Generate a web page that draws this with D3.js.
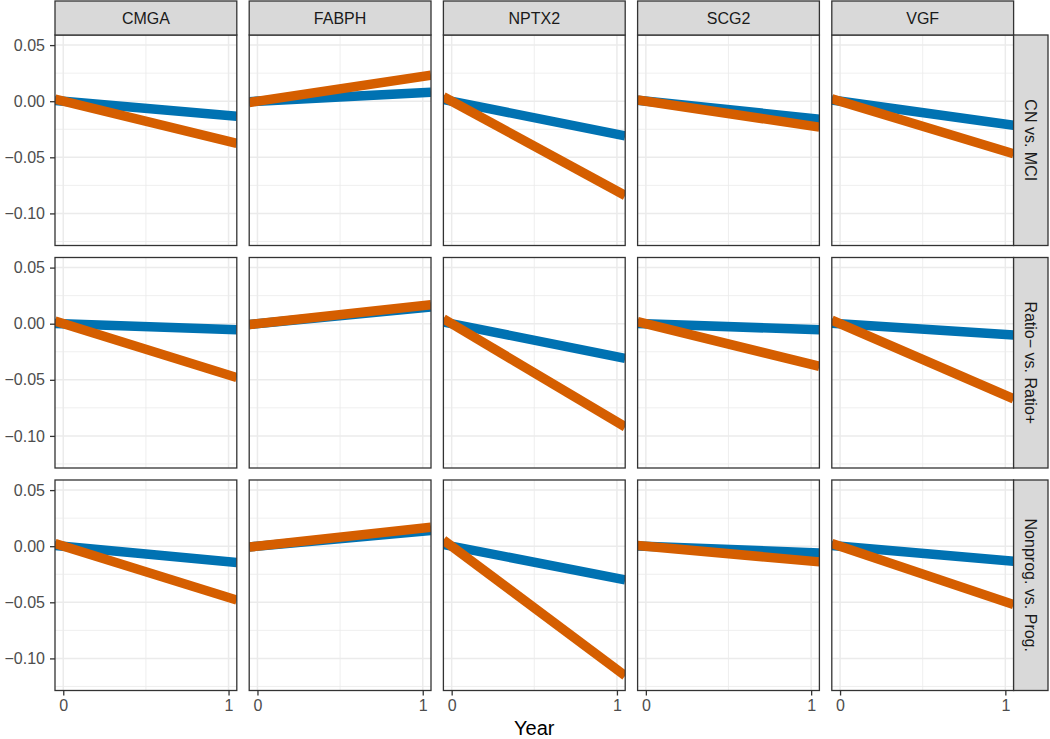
<!DOCTYPE html>
<html>
<head>
<meta charset="utf-8">
<script src="https://cdn.jsdelivr.net/npm/d3@7"></script>
<style>
  html, body { margin: 0; padding: 0; background: #fff; }
  svg { display: block; }
  text { font-family: "Liberation Sans", Arial, sans-serif; }
</style>
</head>
<body>
<svg id="chart" width="1050" height="739"></svg>
<script>
// ---------- data ----------
const genes = ["CMGA", "FABPH", "NPTX2", "SCG2", "VGF"];
const comparisons = ["CN vs. MCI", "Ratio\u2212 vs. Ratio+", "Nonprog. vs. Prog."];
const groupColors = ["#0072B2", "#D55E00"];
// value at Year 0 (all start at baseline)
const year0Blue = [
  [0, 0, 0, 0, 0],
  [0, 0, 0, 0, 0],
  [0, 0, 0, 0, 0]
];
const year0Orange = [
  [0, 0, 0, 0, 0],
  [0, 0, 0, 0, 0],
  [0, 0, 0, 0, 0]
];
// estimated value at Year 1, rows = comparisons, columns = genes
const year1Blue = [
  [-0.0128, 0.0076, -0.0295, -0.0152, -0.0205],
  [-0.0052, 0.0143, -0.0295, -0.0052, -0.0095],
  [-0.0139, 0.0133, -0.0286, -0.0057, -0.0128]
];
const year1Orange = [
  [-0.0358, 0.0220, -0.0800, -0.0220, -0.0446],
  [-0.0457, 0.0162, -0.0876, -0.0362, -0.0638],
  [-0.0457, 0.0162, -0.1100, -0.0133, -0.0495]
];
const xTicks = [0, 1];
const xMinor = [0.5];
const yTicks = [0.05, 0.00, -0.05, -0.10];
const yMinor = [0.025, -0.025, -0.075, -0.125];
const xDomain = [-0.05, 1.05];
const yDomain = [-0.1286, 0.059];
const xTitle = "Year";

// ---------- layout ----------
const svg = d3.select("#chart");
const leftX = 55, topY = 35;
const pw = 181.8, ph = 210.5, gapX = 12.4, gapY = 12;
const stripH = 34, stripW = 34.4;
const fmt = v => (v < 0 ? "\u2212" : "") + Math.abs(v).toFixed(2);

const x = d3.scaleLinear().domain(xDomain).range([0, pw]);
const y = d3.scaleLinear().domain(yDomain).range([ph, 0]);

const series = [
  { y0: year0Blue, y1: year1Blue, color: groupColors[0] },
  { y0: year0Orange, y1: year1Orange, color: groupColors[1] }
];

comparisons.forEach((comp, r) => {
  genes.forEach((gene, c) => {
    const px = leftX + c * (pw + gapX);
    const py = topY + r * (ph + gapY);
    const g = svg.append("g").attr("transform", `translate(${px},${py})`);
    const clipId = `clip-${r}-${c}`;
    g.append("clipPath").attr("id", clipId)
      .append("rect").attr("x", 0).attr("y", 0).attr("width", pw).attr("height", ph);

    // minor grid
    g.selectAll(".ymin").data(yMinor).join("line")
      .attr("x1", 0).attr("x2", pw)
      .attr("y1", d => y(d)).attr("y2", d => y(d))
      .attr("stroke", "#EBEBEB").attr("stroke-width", 0.8);
    g.selectAll(".xmin").data(xMinor).join("line")
      .attr("y1", 0).attr("y2", ph)
      .attr("x1", d => x(d)).attr("x2", d => x(d))
      .attr("stroke", "#EBEBEB").attr("stroke-width", 0.8);
    // major grid
    g.selectAll(".ymaj").data(yTicks).join("line")
      .attr("x1", 0).attr("x2", pw)
      .attr("y1", d => y(d)).attr("y2", d => y(d))
      .attr("stroke", "#EBEBEB").attr("stroke-width", 1.5);
    g.selectAll(".xmaj").data(xTicks).join("line")
      .attr("y1", 0).attr("y2", ph)
      .attr("x1", d => x(d)).attr("x2", d => x(d))
      .attr("stroke", "#EBEBEB").attr("stroke-width", 1.5);

    // lines (extended over full panel range)
    const lines = g.append("g").attr("clip-path", `url(#${clipId})`);
    series.forEach(s => {
      const b = s.y0[r][c];
      const m = s.y1[r][c] - b;
      const pts = xDomain.map(t => [t, b + m * t]);
      lines.append("path")
        .datum(pts)
        .attr("d", d3.line().x(d => x(d[0])).y(d => y(d[1])))
        .attr("fill", "none")
        .attr("stroke", s.color)
        .attr("stroke-width", 9.5);
    });

    // border
    g.append("rect").attr("x", 0).attr("y", 0).attr("width", pw).attr("height", ph)
      .attr("fill", "none").attr("stroke", "#333333").attr("stroke-width", 1.3);

    // top strip
    if (r === 0) {
      const s = svg.append("g").attr("transform", `translate(${px},${topY - stripH})`);
      s.append("rect").attr("width", pw).attr("height", stripH)
        .attr("fill", "#D9D9D9").attr("stroke", "#333333").attr("stroke-width", 1.3);
      s.append("text").attr("x", pw / 2).attr("y", stripH / 2).attr("dy", "0.36em")
        .attr("text-anchor", "middle").attr("font-size", 16).attr("fill", "#1A1A1A")
        .text(gene);
    }
    // right strip
    if (c === genes.length - 1) {
      const s = svg.append("g").attr("transform", `translate(${px + pw},${py})`);
      s.append("rect").attr("width", stripW).attr("height", ph)
        .attr("fill", "#D9D9D9").attr("stroke", "#333333").attr("stroke-width", 1.3);
      s.append("text")
        .attr("transform", `translate(${stripW / 2},${ph / 2}) rotate(90)`)
        .attr("dy", "0.36em")
        .attr("text-anchor", "middle").attr("font-size", 16).attr("fill", "#1A1A1A")
        .text(comp);
    }
    // y axis
    if (c === 0) {
      const ax = svg.append("g").attr("transform", `translate(${px},${py})`)
        .call(d3.axisLeft(y).tickValues(yTicks).tickFormat(fmt).tickSize(5).tickPadding(5));
      ax.select(".domain").remove();
      ax.selectAll(".tick line").attr("stroke", "#333333").attr("stroke-width", 1.3);
      ax.selectAll(".tick text").attr("font-size", 16).attr("fill", "#4D4D4D")
        .attr("font-family", "Liberation Sans, Arial, sans-serif");
    }
    // x axis
    if (r === comparisons.length - 1) {
      const ax = svg.append("g").attr("transform", `translate(${px},${py + ph})`)
        .call(d3.axisBottom(x).tickValues(xTicks).tickFormat(d3.format("d")).tickSize(5).tickPadding(4));
      ax.select(".domain").remove();
      ax.selectAll(".tick line").attr("stroke", "#333333").attr("stroke-width", 1.3);
      ax.selectAll(".tick text").attr("font-size", 16).attr("fill", "#4D4D4D")
        .attr("font-family", "Liberation Sans, Arial, sans-serif");
    }
  });
});

// x title
const totalW = genes.length * pw + (genes.length - 1) * gapX;
svg.append("text")
  .attr("x", leftX + totalW / 2).attr("y", 735)
  .attr("text-anchor", "middle").attr("font-size", 20).attr("fill", "#000")
  .text(xTitle);
</script>
</body>
</html>
